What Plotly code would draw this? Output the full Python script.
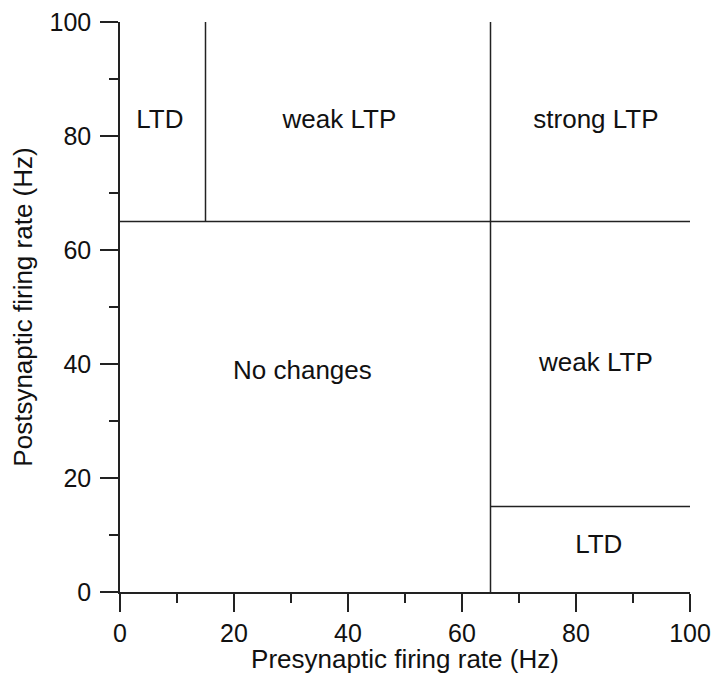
import plotly.graph_objects as go

# Region boundaries (segments): x pairs and y pairs
seg_x = [[0, 100], [15, 15], [65, 65], [65, 100]]
seg_y = [[65, 65], [65, 100], [0, 100], [15, 15]]

# Region labels
label_text = ["LTD", "weak LTP", "strong LTP", "No changes", "weak LTP", "LTD"]
label_x = [7.0, 38.5, 83.5, 32.0, 83.5, 84.0]
label_y = [82.5, 82.5, 82.5, 38.5, 40.0, 8.0]

x_ticks = [0, 20, 40, 60, 80, 100]
y_ticks = [0, 20, 40, 60, 80, 100]

FONT = "Liberation Sans, Arial"

fig = go.Figure()
for xs, ys in zip(seg_x, seg_y):
    fig.add_trace(go.Scatter(x=xs, y=ys, mode="lines",
                             line=dict(color="#222222", width=1.5),
                             showlegend=False, hoverinfo="skip", cliponaxis=False))

fig.add_trace(go.Scatter(x=label_x, y=label_y, mode="text", text=label_text,
                         textfont=dict(family=FONT, size=26, color="#111111"),
                         showlegend=False, hoverinfo="skip"))

axis_common = dict(
    showgrid=False, zeroline=False, showline=True, linecolor="#222222", linewidth=1.5,
    ticks="outside", ticklen=18, tickwidth=1.5, tickcolor="#222222",
    tickfont=dict(family=FONT, size=25, color="#111111"),
    minor=dict(ticks="outside", ticklen=9, tickwidth=1.5, tickcolor="#222222", dtick=10, showgrid=False),
    title_font=dict(family=FONT, size=26, color="#111111"),
    automargin=False,
)

fig.update_xaxes(range=[0, 100], tickvals=x_ticks, **axis_common,
                 title_text="Presynaptic firing rate (Hz)", title_standoff=2)
fig.update_yaxes(range=[0, 100], tickvals=y_ticks, **axis_common,
                 title_text="Postsynaptic firing rate (Hz)", title_standoff=9,
                 ticklabelstandoff=4)

fig.update_layout(
    width=715, height=674,
    margin=dict(l=120, r=25, t=22, b=82),
    plot_bgcolor="white", paper_bgcolor="white",
)

fig.write_html("out.html")
